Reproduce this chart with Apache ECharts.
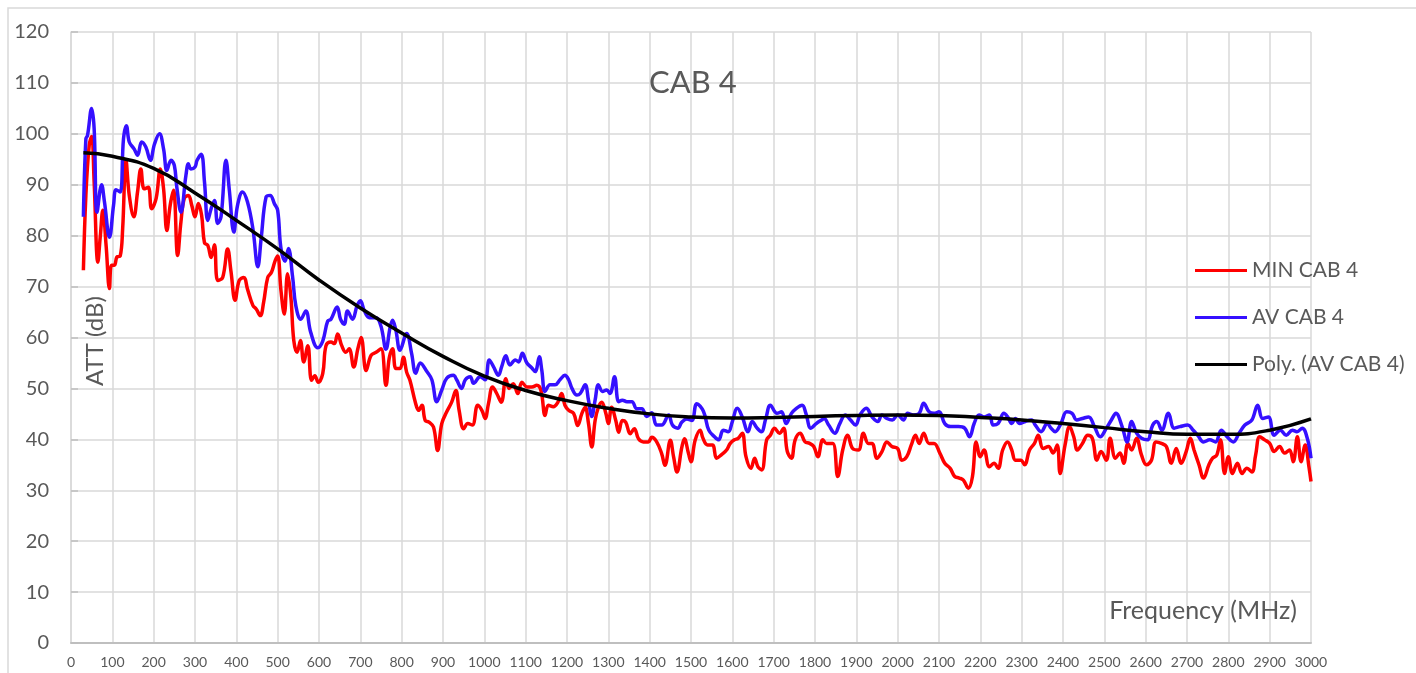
<!DOCTYPE html>
<html>
<head>
<meta charset="utf-8">
<style>
    html, body { margin: 0; padding: 0; background: #fff; }
    #main { width: 1416px; height: 673px; }
</style>
</head>
<body>
<div id="main"></div>
<script src="https://cdn.jsdelivr.net/npm/echarts@6/dist/echarts.min.js"></script>
<script>
// MIN CAB 4
var minFreq = [30, 36, 44, 50, 56, 65, 71, 77, 85, 93, 98, 105, 111, 119, 125, 133, 141, 152, 161, 169,
    177, 187, 195, 206, 216, 224, 232, 240, 248, 258, 266, 274, 284, 292, 300, 308, 316, 323, 331, 339,
    347, 355, 367, 379, 387, 397, 407, 418, 427, 440, 448, 458, 466, 476, 485, 494, 500, 508, 516, 524,
    532, 539, 547, 555, 563, 573, 582, 590, 598, 609, 617, 629, 637, 645, 655, 665, 673, 684, 694, 702,
    714, 726, 738, 750, 762, 770, 778, 786, 796, 804, 812, 820, 833, 841, 849, 857, 866, 877, 887, 897,
    909, 921, 931, 939, 950, 960, 971, 984, 994, 1002, 1010, 1020, 1030, 1041, 1052, 1060, 1070, 1081, 1091, 1103,
    1115, 1127, 1137, 1147, 1155, 1167, 1178, 1187, 1195, 1204, 1216, 1226, 1236, 1244, 1252, 1260, 1268, 1276, 1284, 1294,
    1300, 1308, 1318, 1325, 1334, 1342, 1353, 1363, 1373, 1385, 1397, 1405, 1417, 1429, 1437, 1450, 1458, 1466, 1478, 1484,
    1494, 1500, 1510, 1522, 1529, 1540, 1552, 1562, 1574, 1586, 1595, 1605, 1614, 1624, 1633, 1645, 1654, 1662, 1671, 1683,
    1692, 1702, 1714, 1724, 1733, 1743, 1752, 1764, 1776, 1787, 1797, 1807, 1819, 1828, 1843, 1855, 1867, 1879, 1891, 1905,
    1917, 1929, 1938, 1950, 1962, 1974, 1986, 2000, 2010, 2022, 2033, 2043, 2052, 2063, 2076, 2088, 2102, 2114, 2127, 2138,
    2149, 2159, 2171, 2181, 2190, 2200, 2209, 2222, 2233, 2243, 2254, 2266, 2276, 2285, 2298, 2307, 2319, 2331, 2340, 2352,
    2365, 2376, 2386, 2393, 2405, 2416, 2426, 2435, 2447, 2460, 2471, 2482, 2492, 2505, 2514, 2527, 2538, 2547, 2557, 2566,
    2578, 2590, 2602, 2614, 2625, 2638, 2650, 2662, 2674, 2686, 2698, 2708, 2717, 2729, 2740, 2753, 2762, 2772, 2781, 2791,
    2800, 2810, 2822, 2833, 2845, 2857, 2866, 2876, 2888, 2900, 2911, 2924, 2936, 2948, 2957, 2967, 2976, 2986, 2995, 3000];
var minAtt = [73.2, 87.9, 97.7, 99.5, 90.5, 74.8, 80, 85, 78, 69.6, 74.2, 74.2, 75.8, 76, 81.4, 94.8, 87.9, 83.7, 88.6, 93.1,
    89.2, 89.5, 85.3, 87.3, 93.1, 89.2, 81, 86, 88.9, 76.1, 82.7, 87.3, 87.9, 86, 83.7, 86.3, 84, 78.6, 78.1, 75.7,
    78.2, 71.2, 71.8, 77.4, 73, 67.3, 71.2, 71.8, 69.5, 66.3, 65.6, 64.3, 66.9, 71.8, 72.8, 75.1, 76, 69.2, 64.6, 72.5,
    67.9, 59.4, 57.1, 59.4, 55.2, 58.4, 51.6, 52.5, 51.2, 52.9, 58.4, 59.1, 58.8, 60.7, 58.4, 57.1, 57.8, 54.2, 57.8, 60,
    53.5, 56.5, 57.1, 57.8, 50.6, 56, 57.8, 53.9, 53.9, 56.1, 53.2, 51.6, 47.3, 45.7, 46.7, 43.7, 43.4, 42.4, 37.8, 43.1,
    45.4, 47.3, 49.6, 45.7, 42.1, 43.1, 42.8, 46.7, 45.7, 44.1, 47, 50.3, 49, 47.3, 51.9, 50, 50.9, 49, 51.2, 50.3,
    50.3, 50.6, 49.6, 44.7, 46.7, 46.4, 47.3, 49, 46.7, 45.7, 45.1, 42.7, 45.1, 46.3, 43.1, 38.5, 43.7, 46.3, 47.3, 45.1,
    43.1, 46.3, 43.7, 41.4, 43.7, 43.4, 41.1, 42.1, 40.1, 39.5, 39.5, 40.4, 39.5, 37.2, 34.9, 39.8, 36.5, 33.6, 38.5, 40.1,
    37.2, 35.6, 39.8, 41.8, 40.2, 38.9, 38.9, 36.3, 37, 37.9, 39.2, 39.9, 40.2, 41.2, 36.6, 34.3, 36.3, 34.6, 34, 39.9,
    40.8, 42.2, 41.2, 42.2, 37.6, 36.3, 39.9, 41.2, 39.5, 39.2, 38.6, 36.6, 39.9, 39.2, 39.2, 32.7, 37.9, 40.8, 38.2, 37.9,
    41.2, 39.2, 39.2, 36.3, 37.6, 39.5, 38.6, 38.2, 35.9, 36.6, 38.9, 40.8, 39.2, 41.2, 39.2, 39.2, 37.3, 35.3, 34.3, 32.7,
    32.4, 32, 30.4, 32.7, 39.5, 36.6, 37.9, 34.6, 35.3, 34.3, 37.9, 39.5, 37.9, 35.9, 35.9, 35, 37.9, 39.2, 40.8, 38.2,
    38.6, 37.3, 38.9, 33.3, 38.9, 42.5, 40.5, 37.9, 39.2, 40.8, 40.2, 35.9, 37.6, 35.9, 40.2, 36.3, 37.3, 35.3, 39.2, 37.9,
    40.2, 36.9, 35, 35.9, 39.5, 39.2, 38.6, 35.3, 38.2, 35.3, 37.6, 40.2, 37.9, 35, 32.4, 35, 36.3, 36.9, 39.9, 33.3,
    36.6, 33.3, 35.3, 33.3, 34.3, 33.6, 36.9, 40.5, 39.9, 39.2, 37.6, 38.6, 37.3, 37.9, 35.6, 40.5, 35.6, 38.9, 34.6, 31.7];

// AV CAB 4
var avFreq = [30, 36, 40, 50, 56, 63, 74, 81, 93, 103, 109, 119, 127, 134, 141, 153, 161, 171, 181, 192,
    202, 214, 224, 232, 242, 250, 256, 266, 278, 284, 290, 300, 305, 315, 323, 331, 339, 347, 355, 363,
    375, 383, 394, 403, 415, 427, 440, 452, 460, 472, 482, 492, 500, 508, 518, 526, 536, 544, 556, 568,
    580, 597, 609, 621, 629, 644, 652, 661, 669, 681, 692, 700, 710, 722, 738, 750, 762, 772, 778, 786,
    796, 812, 824, 834, 845, 861, 873, 885, 897, 909, 925, 933, 945, 954, 966, 974, 990, 1002, 1012, 1022,
    1034, 1042, 1052, 1062, 1075, 1083, 1092, 1103, 1115, 1123, 1133, 1139, 1147, 1159, 1171, 1183, 1195, 1204, 1212, 1224,
    1232, 1244, 1252, 1260, 1268, 1276, 1286, 1296, 1304, 1315, 1325, 1334, 1345, 1357, 1369, 1381, 1393, 1405, 1417, 1429,
    1446, 1455, 1468, 1478, 1490, 1502, 1514, 1530, 1543, 1557, 1567, 1578, 1590, 1600, 1612, 1624, 1638, 1648, 1660, 1670,
    1681, 1692, 1708, 1719, 1730, 1743, 1755, 1769, 1778, 1790, 1803, 1816, 1822, 1833, 1848, 1860, 1873, 1886, 1898, 1909,
    1924, 1938, 1952, 1962, 1974, 1987, 2000, 2014, 2024, 2038, 2052, 2063, 2076, 2088, 2100, 2114, 2128, 2147, 2162, 2174,
    2185, 2197, 2209, 2222, 2231, 2243, 2257, 2266, 2276, 2285, 2295, 2309, 2324, 2333, 2347, 2362, 2371, 2381, 2395, 2409,
    2422, 2433, 2447, 2462, 2476, 2490, 2505, 2517, 2528, 2543, 2555, 2566, 2578, 2590, 2604, 2617, 2627, 2639, 2655, 2669,
    2683, 2702, 2715, 2726, 2740, 2755, 2769, 2783, 2797, 2812, 2826, 2840, 2857, 2871, 2883, 2897, 2911, 2926, 2940, 2955,
    2966, 2979, 2991, 3000];
var avAtt = [83.7, 99, 99.7, 105, 101, 84.6, 90, 86.6, 79.7, 86, 89, 88.6, 99, 101.6, 98.4, 97, 95.8, 98.4, 97.4, 94.8,
    98, 100, 97, 92.8, 94.8, 93.8, 89.5, 84.6, 91.8, 94.1, 93.1, 93.5, 94.8, 96, 90.5, 83, 85.3, 86.9, 82.4, 83.7,
    94.8, 89, 80.7, 86, 88.6, 86.6, 81.4, 73.9, 79.4, 87.6, 87.9, 86.3, 85, 77.5, 75, 77.5, 72, 66.2, 63.6, 65.2,
    61, 58, 59.3, 63.2, 63.6, 66, 63.6, 62.6, 65.2, 63.6, 66.2, 67.2, 65.2, 63.9, 63.9, 62.2, 57.7, 62, 63.4, 61.4,
    57.5, 60.8, 56.9, 53, 55, 53.3, 51.7, 47.4, 49.7, 52, 52.6, 51.7, 50, 51.7, 52.3, 51, 52.3, 51.7, 55.6, 54.3,
    52.6, 54.3, 56.4, 54.6, 55.6, 55.2, 56.9, 55, 54, 53.3, 56.2, 53.6, 49.4, 50.7, 50.7, 51.7, 52.6, 51.7, 50, 48.7,
    49, 50.7, 47.7, 44.5, 47.7, 50.7, 49.4, 49.7, 49, 52.3, 47.4, 47.7, 47.4, 47.4, 46, 46, 44.5, 45.2, 42.8, 42.8,
    44.8, 42.8, 42.2, 43.4, 44, 43.7, 47, 45.5, 41.8, 40.5, 39.9, 41.8, 41.5, 43.5, 46.1, 44.4, 41.5, 43.5, 42.2, 41.5,
    44.1, 46.7, 45.1, 45.4, 43.1, 45.1, 46.1, 46.7, 45.1, 42.2, 43.1, 43.8, 44.1, 42.8, 41.2, 43.1, 44.8, 43.8, 42.8, 44.8,
    46.1, 44.4, 43.5, 44.8, 44.1, 43.8, 44.8, 43.8, 45.1, 44.8, 45.1, 47.1, 45.4, 45.1, 45.4, 43.1, 42.5, 42.5, 42.2, 40.5,
    43.1, 44.8, 44.4, 44.8, 42.8, 43.1, 45.1, 44.4, 43.1, 44.1, 43.1, 43.5, 43.8, 42.8, 41.5, 43.1, 42.2, 41.5, 43.1, 45.4,
    45.1, 43.8, 44.1, 44.4, 42.5, 40.5, 42.2, 43.8, 45.1, 42.5, 39.5, 43.5, 41.2, 40.2, 39.9, 42.8, 43.5, 41.8, 45.1, 42.2,
    42.5, 42.8, 41.8, 40.8, 39.5, 39.9, 39.5, 41.8, 40.5, 39.5, 41.2, 42.8, 43.8, 46.7, 44.1, 44.4, 40.8, 41.8, 40.8, 41.8,
    41.5, 42.2, 40.2, 36.3];

// Poly. (AV CAB 4) trendline
var polyFreq = [30, 100, 200, 300, 400, 500, 600, 700, 800, 900, 1000, 1100, 1200, 1300, 1400, 1500,
    1600, 1700, 1800, 1900, 2000, 2100, 2200, 2300, 2400, 2500, 2600, 2700, 2800, 2900, 3000];
var polyAtt = [96.3, 95.6, 93.2, 88.4, 83, 77.4, 71.3, 65.8, 60.9, 56.3, 52.4, 49.6, 47.6, 46.1, 45, 44.4,
    44.2, 44.3, 44.5, 44.7, 44.8, 44.7, 44.3, 43.8, 43.1, 42.3, 41.5, 41, 41, 41.8, 44];

function pairs(f, v) {
    var out = [];
    for (var i = 0; i < f.length; i++) {
        out.push([f[i], v[i]]);
    }
    return out;
}

var txt = '#595959';
var chart = echarts.init(document.getElementById('main'));
var option = {
    animation: false,
    textStyle: { fontFamily: 'Lato' },
    title: {
        text: 'CAB 4',
        left: 644,
        top: 62,
        textStyle: { color: txt, fontSize: 31, fontWeight: 'normal', fontFamily: 'Lato' }
    },
    graphic: [{
        type: 'rect',
        shape: { x: 8, y: 8, width: 1430, height: 700 },
        style: { fill: 'none', stroke: '#d9d9d9', lineWidth: 1.5 },
        silent: true
    }, {
        // y axis title sits inside the plot
        type: 'text',
        x: 95,
        y: 341,
        rotation: Math.PI / 2,
        style: {
            text: 'ATT (dB)',
            fill: txt,
            fontSize: 24,
            fontFamily: 'Lato',
            align: 'center',
            verticalAlign: 'middle'
        },
        silent: true
    }],
    legend: {
        orient: 'vertical',
        left: 1195,
        top: 258,
        padding: 0,
        icon: 'rect',
        itemWidth: 52,
        itemHeight: 3,
        itemGap: 22,
        textStyle: { color: txt, fontSize: 21, lineHeight: 25, fontFamily: 'Lato' },
        data: ['MIN CAB 4', 'AV CAB 4', 'Poly. (AV CAB 4)']
    },
    grid: {
        left: 71,
        right: 105,
        top: 32,
        bottom: 30,
        containLabel: false,
        outerBoundsMode: 'none'
    },
    xAxis: {
        type: 'value',
        min: 0,
        max: 3000,
        interval: 100,
        name: 'Frequency (MHz)',
        nameLocation: 'end',
        nameGap: -14,
        nameTextStyle: {
            color: txt, fontSize: 25, fontFamily: 'Lato',
            align: 'right', verticalAlign: 'bottom', padding: [0, 0, 20, 0]
        },
        axisLine: { lineStyle: { color: '#bfbfbf', width: 2 } },
        axisTick: { show: false },
        axisLabel: {
            color: txt,
            fontSize: 14,
            margin: 12,
            formatter: function (v) { return String(v); }
        },
        splitLine: { show: true, lineStyle: { color: '#d9d9d9', width: 1.5 } }
    },
    yAxis: {
        type: 'value',
        min: 0,
        max: 120,
        interval: 10,
        axisLine: { show: true, lineStyle: { color: '#d9d9d9', width: 1.5 } },
        axisTick: { show: true, inside: true, length: 7, lineStyle: { color: '#bfbfbf', width: 1.5 } },
        axisLabel: { color: txt, fontSize: 20, margin: 22 },
        splitLine: { show: true, lineStyle: { color: '#d9d9d9', width: 1.5 } }
    },
    series: [{
        name: 'MIN CAB 4',
        type: 'line',
        smooth: 0.4,
        symbol: 'none',
        lineStyle: { color: '#ff0000', width: 3.5 },
        itemStyle: { color: '#ff0000' },
        data: pairs(minFreq, minAtt)
    }, {
        name: 'AV CAB 4',
        type: 'line',
        smooth: 0.4,
        symbol: 'none',
        lineStyle: { color: '#3510ff', width: 3.5 },
        itemStyle: { color: '#3510ff' },
        data: pairs(avFreq, avAtt)
    }, {
        name: 'Poly. (AV CAB 4)',
        type: 'line',
        smooth: true,
        symbol: 'none',
        lineStyle: { color: '#000000', width: 3.5 },
        itemStyle: { color: '#000000' },
        data: pairs(polyFreq, polyAtt)
    }]
};
chart.setOption(option);
</script>
</body>
</html>
